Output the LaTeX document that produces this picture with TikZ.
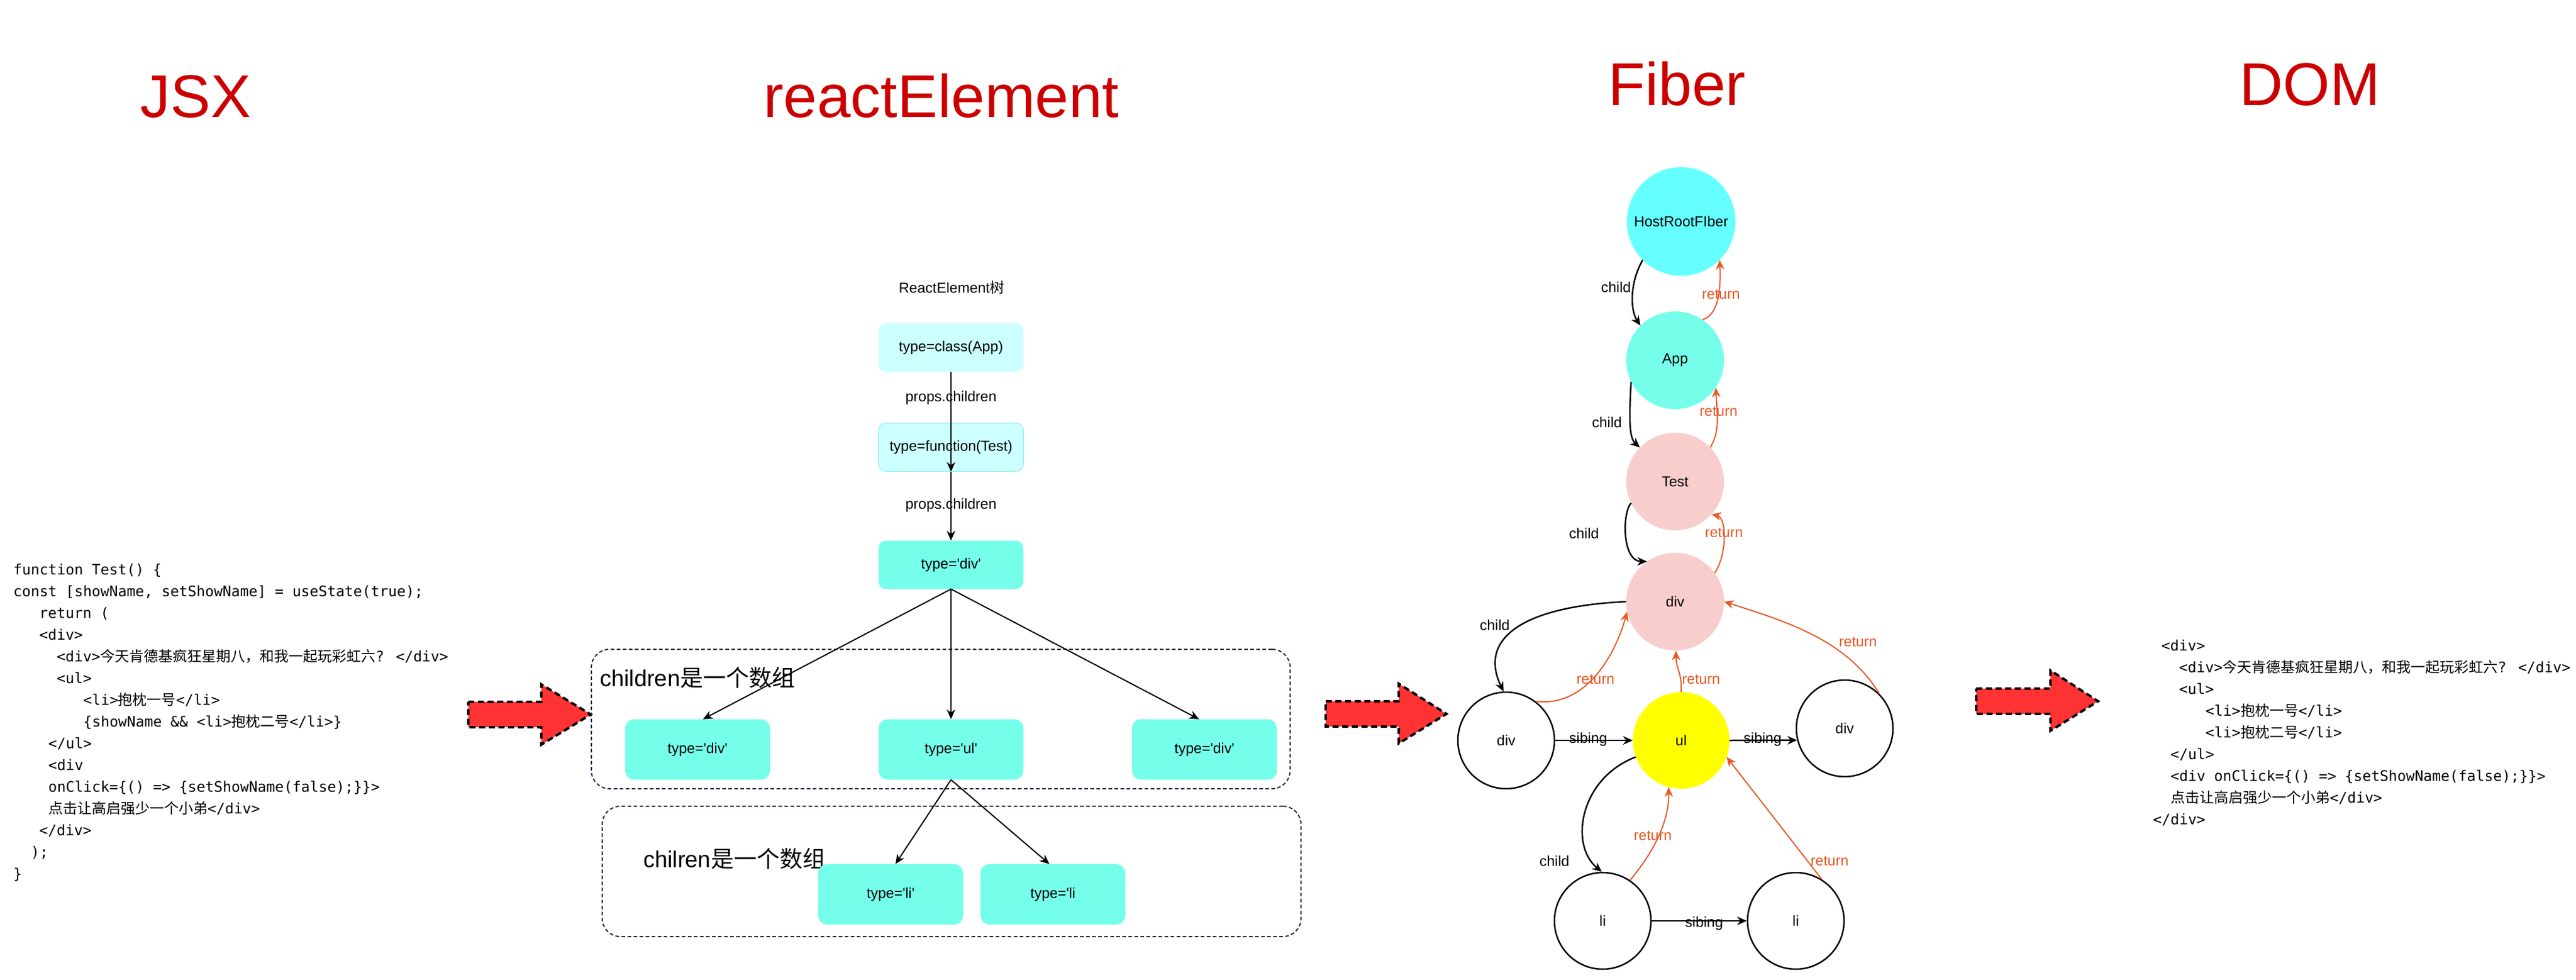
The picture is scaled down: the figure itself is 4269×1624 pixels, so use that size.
\documentclass[tikz,border=0pt]{standalone}
\usepackage{fontspec}
\usetikzlibrary{arrows.meta}
\newfontfamily\lsans{Liberation Sans}
\newfontfamily\cmono{DejaVu Sans Mono}
\newfontfamily\cjk{Noto Sans CJK SC}
\definecolor{titlered}{RGB}{204,0,0}
\definecolor{cyana}{RGB}{102,255,255}
\definecolor{cyanb}{RGB}{117,255,234}
\definecolor{palecyan}{RGB}{204,255,255}
\definecolor{palecyanb}{RGB}{160,240,240}
\definecolor{pinkf}{RGB}{248,206,204}
\definecolor{yellowf}{RGB}{255,255,0}
\definecolor{orangel}{RGB}{232,90,40}
\definecolor{groupc}{RGB}{40,40,70}
\definecolor{redfill}{RGB}{255,51,51}
\begin{document}
\begin{tikzpicture}[x=1pt,y=-1pt,
  title/.style={font=\lsans\fontsize{100}{110}\selectfont, text=titlered, inner sep=0pt, anchor=base},
  code/.style={font=\cmono\fontsize{24}{28}\selectfont, inner sep=0pt, anchor=base west},
  lab/.style={font=\lsans\fontsize{24}{28}\selectfont, inner sep=0pt},
  rlab/.style={lab, text=orangel},
  glab/.style={font=\lsans\fontsize{38}{44}\selectfont, inner sep=0pt, anchor=west},
  rbox/.style={rectangle, rounded corners=12pt, minimum width=240pt, minimum height=80pt, inner sep=0pt, font=\lsans\fontsize{24}{28}\selectfont},
  cbox/.style={rbox, rounded corners=15pt, minimum height=100pt, fill=cyanb},
  group/.style={rectangle, draw=groupc, line width=2pt, dash pattern=on 6pt off 4pt, rounded corners=30pt, inner sep=0pt},
  barrow/.style={draw=black, line width=2pt, -{Stealth[length=16pt,width=14pt]}},
  fnode/.style={circle, inner sep=0pt, minimum size=160pt, font=\lsans\fontsize{24}{28}\selectfont},
  wnode/.style={fnode, draw=black, line width=2.5pt},
  fchild/.style={draw=black, line width=2.5pt, -{Stealth[length=16pt,width=14pt]}},
  fret/.style={draw=orangel, line width=2pt, -{Stealth[length=16pt,width=14pt]}},
  redarr/.style={fill=redfill, draw=black, line width=4pt, dash pattern=on 10pt off 6pt}
]
\useasboundingbox (0,0) rectangle (4269,1624);
\fill[white] (0,0) rectangle (4269,1624);

% ---------- titles ----------
\node[title] (tjsx) at (324,195) {JSX};
\node[title] (tre) at (1560,195) {reactElement};
\node[title] (tfib) at (2779,175) {Fiber};
\node[title] (tdom) at (3828,175) {DOM};

% ---------- JSX code ----------
\node[code] (j1) at (22,952) {function Test() \{};
\node[code] (j2) at (22,988) {const [showName, setShowName] = useState(true);};
\node[code] (j3) at (65,1024) {return (};
\node[code] (j4) at (65,1060) {<div>};
\node[code] (j5) at (94,1096) {<div>{\cjk 今天肯德基疯狂星期八，和我一起玩彩虹六}? </div>};
\node[code] (j6) at (94,1132) {<ul>};
\node[code] (j7) at (138,1168) {<li>{\cjk 抱枕一号}</li>};
\node[code] (j8) at (138,1204) {\{showName \&\& <li>{\cjk 抱枕二号}</li>\}};
\node[code] (j9) at (80,1240) {</ul>};
\node[code] (j10) at (80,1276) {<div};
\node[code] (j11) at (80,1312) {onClick=\{() => \{setShowName(false);\}\}>};
\node[code] (j12) at (80,1348) {{\cjk 点击让高启强少一个小弟}</div>};
\node[code] (j13) at (65,1384) {</div>};
\node[code] (j14) at (51,1420) {);};
\node[code] (j15) at (22,1456) {\}};

% ---------- DOM code ----------
\node[code] (d1) at (3582,1078) {<div>};
\node[code] (d2) at (3611,1114) {<div>{\cjk 今天肯德基疯狂星期八，和我一起玩彩虹六}? </div>};
\node[code] (d3) at (3611,1150) {<ul>};
\node[code] (d4) at (3655,1186) {<li>{\cjk 抱枕一号}</li>};
\node[code] (d5) at (3655,1222) {<li>{\cjk 抱枕二号}</li>};
\node[code] (d6) at (3597,1258) {</ul>};
\node[code] (d7) at (3597,1294) {<div onClick=\{() => \{setShowName(false);\}\}>};
\node[code] (d8) at (3597,1330) {{\cjk 点击让高启强少一个小弟}</div>};
\node[code] (d9) at (3568,1366) {</div>};

% ---------- big red arrows ----------
\draw[redarr] (776,1163) -- (897,1163) -- (897,1134) -- (979,1184) -- (897,1234) -- (897,1205) -- (776,1205) -- cycle;
\draw[redarr] (2197,1162) -- (2318,1162) -- (2318,1133) -- (2397,1183) -- (2318,1232) -- (2318,1204) -- (2197,1204) -- cycle;
\draw[redarr] (3275,1141) -- (3398,1141) -- (3398,1111) -- (3477,1162) -- (3398,1211) -- (3398,1183) -- (3275,1183) -- cycle;

% ---------- ReactElement tree ----------
\node[lab] (rtitle) at (1577,476) {ReactElement{\cjk 树}};
\node[rbox, fill=palecyan] (rapp) at (1576,576) {type=class(App)};
\node[rbox, fill=palecyan, draw=palecyanb, line width=1.5pt] (rtest) at (1576,741) {type=function(Test)};
\node[rbox, fill=cyanb] (rdiv) at (1576,936) {type='div'};
\node[lab] (lp1) at (1576,659) {props.children};
\node[lab] (lp2) at (1576,837) {props.children};

\node[group, minimum width=1158pt, minimum height=231pt] (g1) at (1559,1191.5) {};
\node[group, minimum width=1158pt, minimum height=216pt] (g2) at (1577,1444) {};
\node[glab] (gl1) at (994,1123) {children{\cjk 是一个数组}};
\node[glab] (gl2) at (1066,1423) {chilren{\cjk 是一个数组}};

\node[cbox] (c1) at (1156,1242) {type='div'};
\node[cbox] (c2) at (1576,1242) {type='ul'};
\node[cbox] (c3) at (1996,1242) {type='div'};
\node[cbox] (l1) at (1476,1482) {type='li'};
\node[cbox] (l2) at (1745,1482) {type='li};

\draw[barrow] (rapp.south) -- (rtest.south);
\draw[barrow] (rtest.south) -- (rdiv.north);
\draw[barrow] (rdiv.south) -- ([xshift=9pt]c1.north);
\draw[barrow] (rdiv.south) -- (c2.north);
\draw[barrow] (rdiv.south) -- ([xshift=-9pt]c3.north);
\draw[barrow] (c2.south) -- ([xshift=8pt]l1.north);
\draw[barrow] (c2.south) -- ([xshift=-6pt]l2.north);

% ---------- Fiber tree ----------
\node[fnode, fill=cyana, minimum size=180pt] (host) at (2786,367) {HostRootFIber};
\node[fnode, fill=cyanb, minimum size=162pt] (app) at (2776,597) {App};
\node[fnode, fill=pinkf, minimum size=162pt] (test) at (2776,798) {Test};
\node[fnode, fill=pinkf, minimum size=162pt] (fdiv) at (2776,997) {div};
\node[wnode] (ldiv) at (2496,1227) {div};
\node[fnode, fill=yellowf] (ul) at (2786,1227) {ul};
\node[wnode] (rdivf) at (3057,1207) {div};
\node[wnode] (li1) at (2656,1526) {li};
\node[wnode] (li2) at (2976,1526) {li};

% labels
\node[lab] (fc1) at (2678,476) {child};
\node[rlab] (fr1) at (2852,488) {return};
\node[lab] (fc2) at (2663,700) {child};
\node[rlab] (fr2) at (2848,682) {return};
\node[lab] (fc3) at (2625,884) {child};
\node[rlab] (fr3) at (2857,883) {return};
\node[lab] (fc4) at (2477,1036) {child};
\node[rlab] (fr4) at (2644,1126) {return};
\node[rlab] (fr5) at (2819,1126) {return};
\node[rlab] (fr6) at (3079,1064) {return};
\node[lab] (fs1) at (2632,1225) {sibing};
\node[lab] (fs2) at (2921,1225) {sibing};
\node[lab] (fc5) at (2576,1427) {child};
\node[rlab] (fr7) at (2739,1385) {return};
\node[rlab] (fr8) at (3032,1427) {return};
\node[lab] (fs3) at (2824,1530) {sibing};

% connectors
\draw[fchild] (host.225) .. controls (2700,470) and (2702,515) .. (app.135);
\draw[fret] (app.56) .. controls (2848,522) and (2852,480) .. (host.315);
\draw[fchild] (app.206) .. controls (2700,690) and (2699,725) .. (test.136);
\draw[fret] (test.44) .. controls (2850,715) and (2846,690) .. (app.326);
\draw[fchild] (test.206) .. controls (2688,850) and (2688,930) .. (fdiv.125);
\draw[fret] (fdiv.36) .. controls (2862,920) and (2862,858) .. (test.318);
\draw[fchild] (fdiv.west) .. controls (2520,1005) and (2450,1060) .. (ldiv.93);
\draw[fret] (ldiv.53) .. controls (2620,1172) and (2672,1100) .. (fdiv.192);
\draw[fret] (ul.north) .. controls (2787,1110) and (2778,1112) .. (fdiv.271);
\draw[fret] (rdivf.45) .. controls (3060,1060) and (2960,1030) .. (fdiv.east);
\draw[fchild] (ldiv.east) -- (ul.west);
\draw[fchild] (ul.east) -- (rdivf.194);
\draw[fchild] (ul.200) .. controls (2618,1290) and (2600,1400) .. (li1.91);
\draw[fret] (li1.56) .. controls (2750,1400) and (2766,1352) .. (ul.255);
\draw[fret] (li2.58) -- (ul.340);
\draw[fchild] (li1.east) -- (li2.west);
\end{tikzpicture}
\end{document}
